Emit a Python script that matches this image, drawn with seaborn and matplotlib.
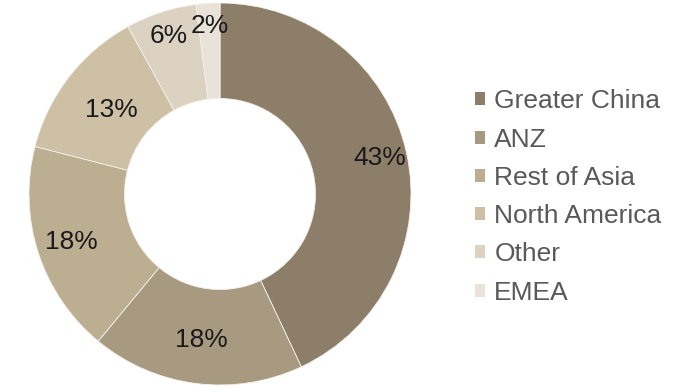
import matplotlib
matplotlib.use("Agg")
import matplotlib.pyplot as plt
import numpy as np
import seaborn as sns

sns.set_theme(style="white")
plt.rcParams['font.family'] = ['Liberation Sans', 'DejaVu Sans']

regions = ["Greater China", "ANZ", "Rest of Asia", "North America", "Other", "EMEA"]
shares = [43, 18, 18, 13, 6, 2]
colors = ["#8c7e68", "#a89a80", "#bcae90", "#cdc0a4", "#dbd2c2", "#e8e2d8"]

fig = plt.figure(figsize=(6.89, 3.88), dpi=100)
W, H = 689, 388
cx, cy, r = 220, 194, 191
ax = fig.add_axes([(cx - r) / W, (H - cy - r) / H, 2 * r / W, 2 * r / H])

wedges, texts, autotexts = ax.pie(
    shares, colors=colors, startangle=90, counterclock=False,
    radius=1.0, autopct=lambda p: f"{p:.0f}%", pctdistance=0.8,
    wedgeprops=dict(width=0.5, edgecolor="#f4f1ec", linewidth=0.6),
    textprops=dict(fontsize=19, color="#1a1a1a"))

# label radial placement (as in the original layout)
label_r = [0.855, 0.77, 0.82, 0.72, 0.87, 0.88]
for w, t, lr in zip(wedges, autotexts, label_r):
    ang = np.deg2rad((w.theta1 + w.theta2) / 2)
    t.set_position((lr * np.cos(ang), lr * np.sin(ang)))

ax.set_xlim(-1, 1)
ax.set_ylim(-1, 1)
ax.set_aspect("equal")
ax.axis("off")

leg = fig.legend(wedges, regions, loc="center left",
                 bbox_to_anchor=(475 / W, 1 - 197 / H), frameon=False,
                 fontsize=19, labelcolor="#595959",
                 handlelength=0.38, handleheight=0.38, handletextpad=0.35,
                 labelspacing=0.54, borderaxespad=0, borderpad=0)
for h in leg.legend_handles:
    h.set_edgecolor("none")

fig.savefig("out.png", dpi=100)
